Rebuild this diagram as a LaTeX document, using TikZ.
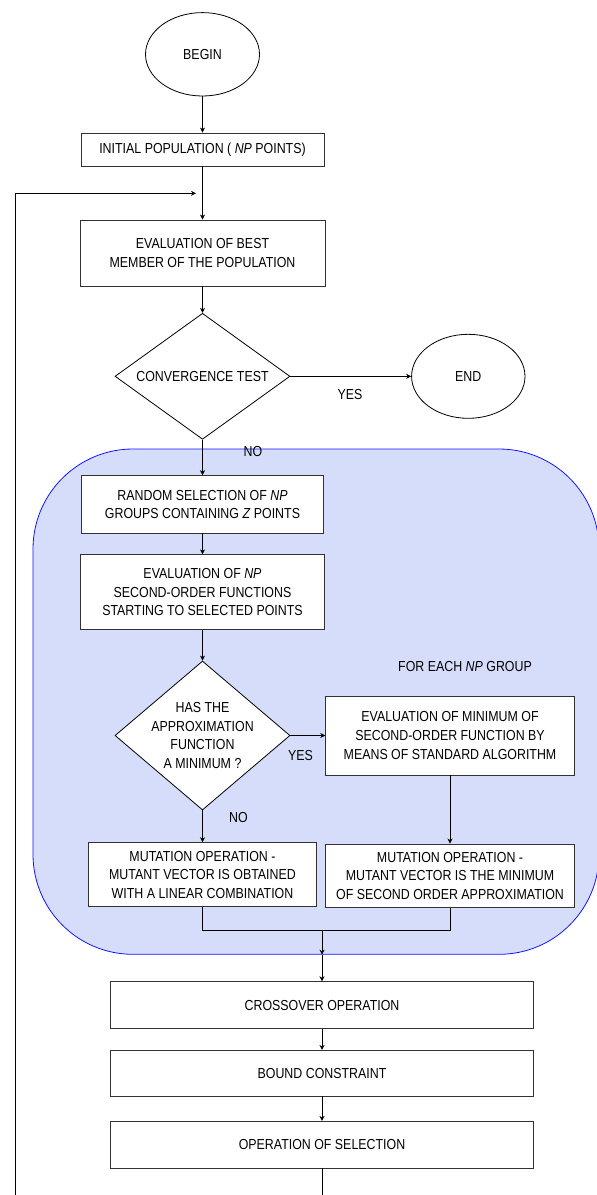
\documentclass[tikz,border=0pt]{standalone}
\usepackage{fontspec}
\setmainfont{Liberation Sans}[FakeStretch=0.855]
\usetikzlibrary{shapes.geometric,arrows.meta}
\definecolor{regfill}{RGB}{214,221,251}
\definecolor{regline}{RGB}{20,20,255}
\definecolor{boxline}{RGB}{50,50,50}
\begin{document}
\begin{tikzpicture}[x=1pt,y=-1pt,
  every node/.style={font=\fontsize{14.5}{18.6}\selectfont},
  box/.style={draw=boxline,line width=0.8pt,fill=white,rectangle,align=center,inner sep=0pt},
  oval/.style={draw=black,line width=0.8pt,fill=white,ellipse,inner sep=0pt},
  dia/.style={draw=black,line width=0.8pt,fill=white,diamond,inner sep=0pt},
  txt/.style={align=center,inner sep=0pt},
  conn/.style={draw=black,line width=0.8pt},
  arr/.style={conn,-{Stealth[length=5pt,width=5pt,inset=1.5pt]}},
  region/.style={draw=regline,line width=0.8pt,fill=regfill,rounded corners=100pt,rectangle,inner sep=0pt}
]
\useasboundingbox (0,0) rectangle (597,1195);

% blue region
\node[region,minimum width=566pt,minimum height=505.3pt] (grp) at (316,701.65) {};

% nodes
\node[oval,minimum width=114pt,minimum height=83.4pt] (begin) at (202.5,54.3) {BEGIN};
\node[box,minimum width=243pt,minimum height=33pt] (init) at (202.5,149.5) {INITIAL POPULATION ( \textit{NP} POINTS)};
\node[box,minimum width=245pt,minimum height=66pt] (best) at (202.5,253) {EVALUATION OF BEST\\ MEMBER OF THE POPULATION};
\node[dia,minimum width=175pt,minimum height=126pt] (conv) at (202.5,376.3) {};
\node[txt] (convt) at (conv.center) {CONVERGENCE TEST};
\node[oval,minimum width=113.4pt,minimum height=84pt] (endn) at (468.3,376.3) {END};

\node[box,minimum width=242pt,minimum height=57.3pt] (rand) at (202.5,504.3) {RANDOM SELECTION OF \textit{NP}\\ GROUPS CONTAINING \textit{Z} POINTS};
\node[box,minimum width=244.5pt,minimum height=75pt] (evnp) at (202.5,592.3) {EVALUATION OF \textit{NP}\\ SECOND-ORDER FUNCTIONS\\ STARTING TO SELECTED POINTS};
\node[dia,minimum width=175pt,minimum height=149pt] (appr) at (202.5,735.5) {};
\node[txt] (apprt) at (appr.center) {HAS THE\\ APPROXIMATION\\ FUNCTION\\ A MINIMUM ?};
\node[txt] (foreach) at (465,666.7) {FOR EACH \textit{NP} GROUP};
\node[box,minimum width=248.6pt,minimum height=79pt] (evmin) at (450,735.5) {EVALUATION OF MINIMUM OF\\ SECOND-ORDER FUNCTION BY\\ MEANS OF STANDARD ALGORITHM};
\node[box,minimum width=228pt,minimum height=64pt] (mutl) at (202.5,874.7) {MUTATION OPERATION -\\ MUTANT VECTOR IS OBTAINED\\ WITH A LINEAR COMBINATION};
\node[box,minimum width=248.6pt,minimum height=63.5pt] (mutr) at (450,875.7) {MUTATION OPERATION -\\ MUTANT VECTOR IS THE MINIMUM\\ OF SECOND ORDER APPROXIMATION};

\node[box,minimum width=423.3pt,minimum height=46.6pt] (cross) at (322,1005) {CROSSOVER OPERATION};
\node[box,minimum width=423.3pt,minimum height=45.7pt] (bound) at (322,1073.2) {BOUND CONSTRAINT};
\node[box,minimum width=423.3pt,minimum height=46.7pt] (sel) at (322,1144.7) {OPERATION OF SELECTION};

% labels
\node[txt] (yes1) at (350,394) {YES};
\node[txt] (no1) at (253,451) {NO};
\node[txt] (yes2) at (300.5,755) {YES};
\node[txt] (no2) at (238.5,817) {NO};

% coordinates
\coordinate (fbtip) at (196,193.3);
\coordinate (fbbot) at (15.3,1200);
\coordinate (selbot) at (322,1200);
\coordinate (merge) at (322,930.7);

% connectors
\draw[arr] (begin.south) -- (init.north);
\draw[arr] (init.south) -- (best.north);
\draw[arr] (fbbot) |- (fbtip);
\draw[arr] (best.south) -- (conv.north);
\draw[arr] (conv.east) -- (endn.west);
\draw[arr] (conv.south) -- (rand.north);
\draw[arr] (rand.south) -- (evnp.north);
\draw[arr] (evnp.south) -- (appr.north);
\draw[arr] (appr.east) -- (evmin.west);
\draw[arr] (appr.south) -- (mutl.north);
\draw[arr] (evmin.south) -- (mutr.north);
\draw[conn] (mutl.south) |- (merge);
\draw[conn] (mutr.south) |- (merge);
\draw[arr] (merge) -- (grp.south -| merge);
\draw[arr] (grp.south -| merge) -- (cross.north);
\draw[arr] (cross.south) -- (bound.north);
\draw[arr] (bound.south) -- (sel.north);
\draw[conn] (sel.south) -- (selbot);
\end{tikzpicture}
\end{document}
